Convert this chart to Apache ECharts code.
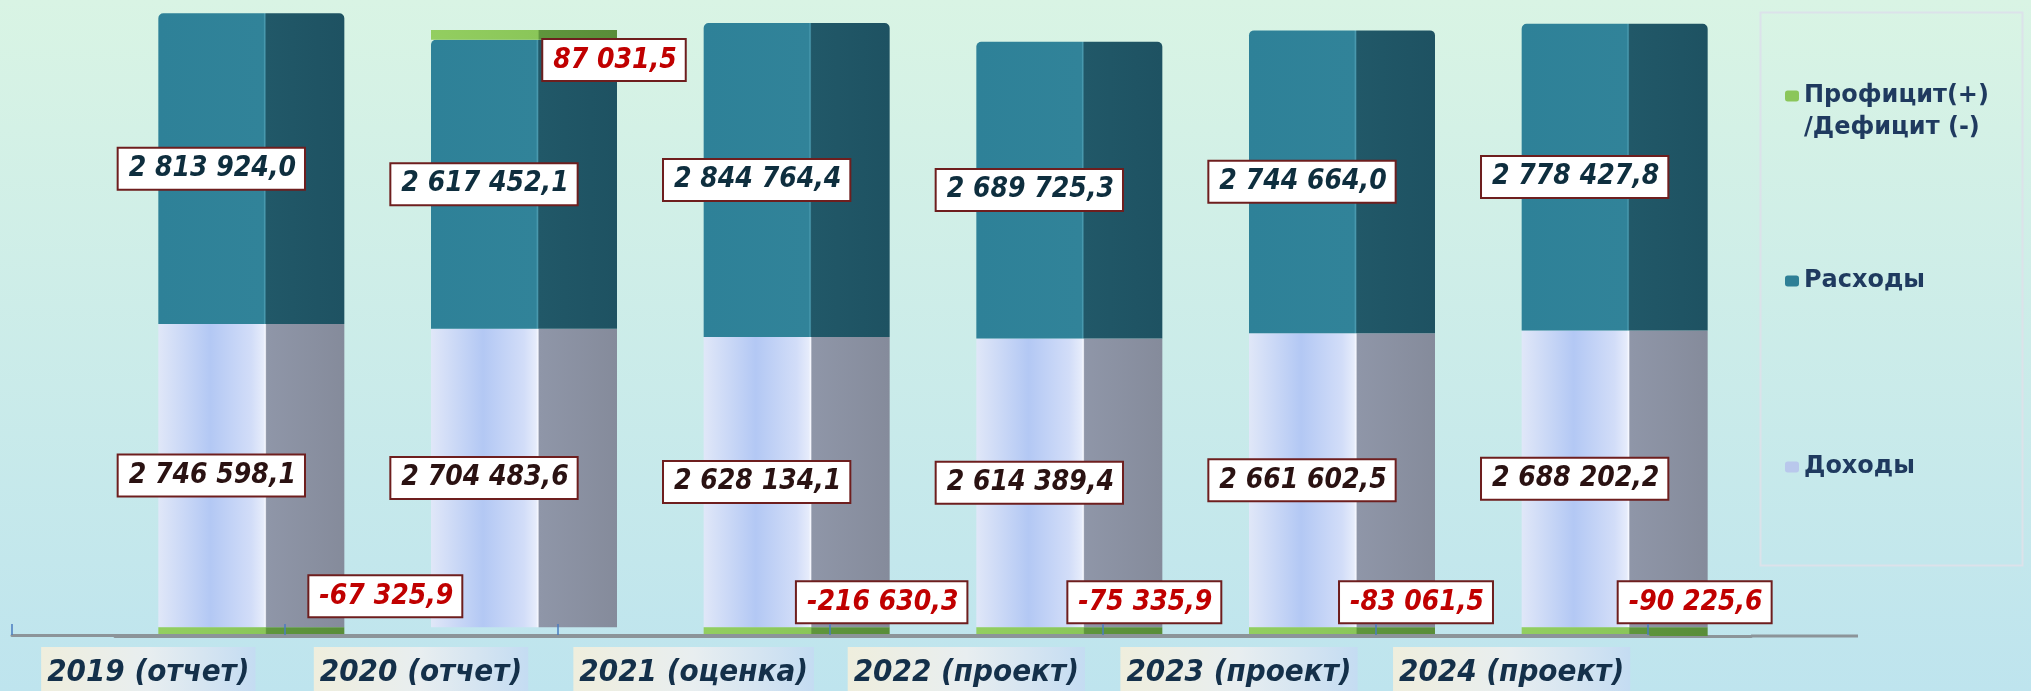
<!DOCTYPE html>
<html>
<head>
<meta charset="utf-8">
<script src="https://cdn.jsdelivr.net/npm/echarts@6/dist/echarts.min.js"></script>
<style>
html,body{margin:0;padding:0;}
#chart{width:2031px;height:691px;}
</style>
</head>
<body>
<div id="chart"></div>
<script>
// ---- data ----
var categories = ['2019 (отчет)', '2020 (отчет)', '2021 (оценка)', '2022 (проект)', '2023 (проект)', '2024 (проект)'];
var income = [2746598.1, 2704483.6, 2628134.1, 2614389.4, 2661602.5, 2688202.2];
var expenses = [2813924.0, 2617452.1, 2844764.4, 2689725.3, 2744664.0, 2778427.8];
var balance = [-67325.9, 87031.5, -216630.3, -75335.9, -83061.5, -90225.6];
var seriesNames = ['Доходы', 'Расходы', 'Профицит(+)\n/Дефицит (-)'];

// label placement (style only)
var balanceLabelOffsets = [[134, -6], [90, 55], [85, 0], [75, 0], [74, 0], [80, 0]];

function fmt(v) {
  var neg = v < 0;
  var a = Math.abs(v).toFixed(1).split('.');
  var i = a[0].replace(/\B(?=(\d{3})+(?!\d))/g, ' ');
  return (neg ? '-' : '') + i + ',' + a[1];
}

var valueFont = "'DejaVu Sans Condensed','DejaVu Sans',sans-serif";
function boxLabel(color) {
  return {
    show: true,
    color: color,
    fontFamily: valueFont,
    fontSize: 28,
    fontWeight: 'bold',
    fontStyle: 'italic',
    backgroundColor: '#FFFFFF',
    borderColor: '#6E1E1E',
    borderWidth: 2,
    padding: [5, 8, 3, 10],
    lineHeight: 32,
    formatter: function (p) { return fmt(p.value); }
  };
}
function hGrad(stops) {
  return {
    type: 'linear', x: 0, y: 0, x2: 1, y2: 0,
    colorStops: stops.map(function (s) { return { offset: s[0], color: s[1] }; })
  };
}

var incomeColor = hGrad([[0, '#E0E7F8'], [0.28, '#B3C8F4'], [0.5, '#D2DDF8'], [0.565, '#E6ECFB'], [0.575, '#F6F8FF'], [0.582, '#8F96A8'], [1, '#858B9B']]);
var expColor = hGrad([[0, '#2E8198'], [0.565, '#318399'], [0.572, '#4C9DB2'], [0.58, '#215868'], [1, '#1E5262']]);
var balColor = hGrad([[0, '#93CE60'], [0.575, '#8AC659'], [0.582, '#5F963C'], [1, '#598D39']]);

var balanceData = balance.map(function (v, i) {
  return { value: v, label: { offset: balanceLabelOffsets[i] } };
});

var legendText = { fontFamily: "'DejaVu Sans',sans-serif", fontWeight: 'bold', fontSize: 24, color: '#1F3A5F', lineHeight: 32 };
function legendItem(name, color) { return { name: name, itemStyle: { color: color } }; }

var chart = echarts.init(document.getElementById('chart'), null, { renderer: 'canvas' });
chart.setOption({
  animation: false,
  backgroundColor: { type: 'linear', x: 0, y: 0, x2: 0, y2: 1, colorStops: [{ offset: 0, color: '#D9F4E4' }, { offset: 1, color: '#BEE4EE' }] },
  grid: [
    { left: 115, width: 1636, top: 9, bottom: 55 },
    { left: 12, width: 1636, top: 9, bottom: 55 }
  ],
  xAxis: [
    { type: 'category', gridIndex: 0, data: categories,
      axisLine: { show: true, onZero: false, lineStyle: { color: '#8C9499', width: 3 } },
      axisTick: { show: false }, axisLabel: { show: false } },
    { type: 'category', gridIndex: 1, data: categories, z: 5,
      axisLine: { show: true, onZero: false, lineStyle: { color: '#8C9499', width: 3 } },
      axisTick: { show: true, interval: 0, inside: true, length: 11, lineStyle: { color: '#4A7CC0', width: 1.5 } },
      axisLabel: {
        interval: 0, margin: 12, color: '#14304A', fontFamily: valueFont, fontSize: 31, fontWeight: 'bold', fontStyle: 'italic',
        lineHeight: 36, padding: [8, 6, 0, 6],
        backgroundColor: hGrad([[0, '#EFEEDD'], [0.5, '#E8EEF0'], [1, '#C4DCF2']])
      } }
  ],
  yAxis: [
    { type: 'value', gridIndex: 0, min: -80000, max: 5600000, show: false, splitLine: { show: false } },
    { type: 'value', gridIndex: 1, min: -80000, max: 5600000, show: false, splitLine: { show: false } }
  ],
  legend: [
    { data: [legendItem(seriesNames[2], '#8BC65A')], orient: 'vertical', left: 1780, top: 43, itemWidth: 14, itemHeight: 11, textStyle: legendText,
      formatter: function (n) { return ' \n' + n; } },
    { data: [legendItem(seriesNames[1], '#2E7F96')], orient: 'vertical', left: 1780, top: 260, itemWidth: 14, itemHeight: 11, textStyle: legendText },
    { data: [legendItem(seriesNames[0], '#B9C8EC')], orient: 'vertical', left: 1780, top: 446, itemWidth: 14, itemHeight: 11, textStyle: legendText }
  ],
  graphic: [
    { type: 'rect', left: 1758, top: 10, shape: { width: 262, height: 553 }, style: { fill: 'none', stroke: '#DCE2EA', lineWidth: 2 }, z: 0 },
    { type: 'line', shape: { x1: 1751, y1: 636, x2: 1858, y2: 636 }, style: { stroke: '#8C9499', lineWidth: 3 } }
  ],
  series: [
    { name: seriesNames[0], type: 'bar', stack: 'total', barWidth: 186, data: income,
      itemStyle: { color: incomeColor },
      label: Object.assign(boxLabel('#2A1212'), { position: 'inside', offset: [-40, 0] }) },
    { name: seriesNames[1], type: 'bar', stack: 'total', barWidth: 186, data: expenses,
      itemStyle: { color: expColor, borderRadius: [5, 5, 0, 0] },
      label: Object.assign(boxLabel('#0E2E3E'), { position: 'inside', offset: [-40, 0] }) },
    { name: seriesNames[2], type: 'bar', stack: 'total', barWidth: 186, data: balanceData,
      itemStyle: { color: balColor },
      label: Object.assign(boxLabel('#C00000'), { position: 'top' }) }
  ]
});
</script>
</body>
</html>
